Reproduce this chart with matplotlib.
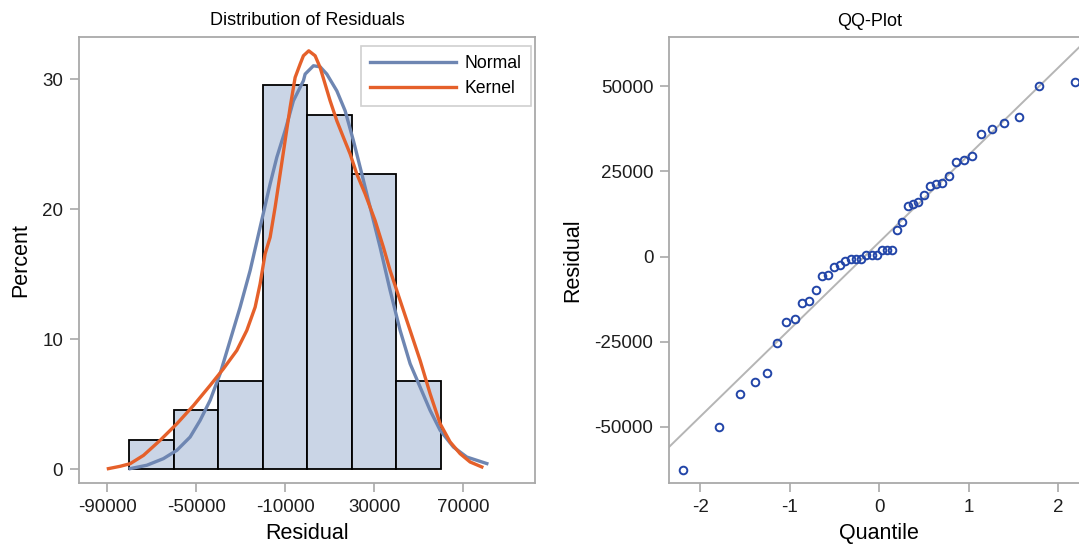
import matplotlib
matplotlib.use("Agg")
import matplotlib.pyplot as plt
import numpy as np

plt.rcParams['font.family'] = ['Liberation Sans', 'DejaVu Sans']
plt.rcParams['axes.unicode_minus'] = False

# residuals (sorted) and their normal quantiles
residuals = [-62500, -50000, -40400, -36700, -34200, -25400, -19200, -18200,
             -13500, -13000, -9900, -5700, -5300, -3100, -2500, -1300,
             -600, -600, -600, 500, 500, 500, 2000, 2000, 2000,
             7800, 10300, 14900, 15500, 16000, 18100, 20600, 21300, 21600,
             23700, 27800, 28400, 29400, 36100, 37600, 39100, 41100, 50000, 51400]
quantiles = [-2.193, -1.790, -1.560, -1.392, -1.256, -1.141, -1.038, -0.945,
             -0.860, -0.780, -0.706, -0.635, -0.567, -0.502, -0.439, -0.377,
             -0.317, -0.258, -0.200, -0.142, -0.085, -0.028, 0.028, 0.085, 0.142,
             0.200, 0.258, 0.317, 0.377, 0.439, 0.502, 0.567, 0.635, 0.706,
             0.780, 0.860, 0.945, 1.038, 1.141, 1.256, 1.392, 1.560, 1.790, 2.193]

bin_edges = [-80000, -60000, -40000, -20000, 0, 20000, 40000, 60000]

# fitted curves (percent)
normal_x = [-79700, -72200, -64740, -58700, -52740, -48240, -43750, -39250,
            -34750, -30260, -25760, -21270, -16770, -13760, -10030, -6290,
            -1800, -1030, 2700, 5710, 8720, 13220, 16950, 20680, 24460,
            28190, 32680, 37180, 41680, 46170, 50670, 55160, 59660, 65640,
            71670, 80660]
normal_y = [0.05, 0.31, 0.82, 1.46, 2.48, 3.76, 5.30, 7.35,
            9.91, 12.47, 15.28, 18.61, 21.94, 23.99, 26.04, 28.34,
            29.88, 30.39, 31.03, 30.95, 30.39, 29.10, 27.57, 25.27, 22.71,
            20.15, 17.07, 13.75, 10.68, 8.12, 6.32, 4.53, 3.00, 1.71,
            0.94, 0.44]

kernel_x = [-89470, -84200, -79700, -73700, -66200, -58700, -51250, -43750,
            -37760, -31740, -27250, -23500, -21270, -19020, -16770, -14520,
            -12270, -10030, -7780, -5530, -3280, -1800, 600, 3460, 5710,
            7960, 10200, 13220, 16190, 19200, 22200, 25940, 30440, 34170,
            37180, 41680, 46170, 50670, 55160, 59660, 64160, 68650, 73150, 78410]
kernel_y = [0.05, 0.23, 0.43, 1.07, 2.23, 3.50, 4.90, 6.45,
            7.73, 9.14, 10.68, 12.47, 14.26, 16.57, 17.84, 20.15,
            22.71, 25.27, 27.83, 30.13, 31.16, 31.80, 32.18, 31.80, 30.90,
            29.62, 28.34, 26.80, 25.52, 24.25, 22.71, 21.18, 19.12, 17.07,
            15.28, 12.98, 10.68, 8.37, 5.81, 3.51, 2.10, 1.20, 0.56, 0.18]

# QQ reference line (mean, std)
ref_intercept = 4240
ref_slope = 25600

left_xticks = [-90000, -50000, -10000, 30000, 70000]
left_yticks = [0, 10, 20, 30]
right_xticks = [-2, -1, 0, 1, 2]
right_yticks = [-50000, -25000, 0, 25000, 50000]

axis_gray = '#A9A9A9'


def style_axes(ax):
    for s in ax.spines.values():
        s.set_color(axis_gray)
        s.set_linewidth(1.3)
    ax.tick_params(direction='out', length=6.5, width=1.2, color=axis_gray,
                   labelcolor='#1E1E1E', labelsize=13.5, pad=5)


fig = plt.figure(figsize=(10.79, 5.49), dpi=100)

# left: histogram with normal and kernel fits
ax1 = fig.add_axes([0.0732, 0.1208, 0.4226, 0.8127])
n = len(residuals)
ax1.hist(residuals, bins=bin_edges, weights=[100.0 / n] * n,
         facecolor='#CAD5E6', edgecolor='black', linewidth=1.3, zorder=2)
ax1.plot(normal_x, normal_y, color='#6E86B2', lw=2.4, label='Normal', zorder=3,
         solid_joinstyle='round')
ax1.plot(kernel_x, kernel_y, color='#E5602A', lw=2.4, label='Kernel', zorder=4,
         solid_joinstyle='round')
ax1.set_xlim(-102700, 102300)
ax1.set_ylim(-1.03, 33.28)
ax1.set_xticks(left_xticks)
ax1.set_yticks(left_yticks)
ax1.set_xlabel('Residual', fontsize=15.5, labelpad=5)
ax1.set_ylabel('Percent', fontsize=15.5, labelpad=8)
ax1.set_title('Distribution of Residuals', fontsize=13, pad=8)
style_axes(ax1)
leg = ax1.legend(loc='upper right', bbox_to_anchor=(0.9906, 0.9787),
                 borderaxespad=0, fontsize=12.7, handlelength=4.9,
                 fancybox=False, framealpha=1, edgecolor='#D0D0D0',
                 handletextpad=0.5, labelspacing=0.45, borderpad=0.5)
leg.get_frame().set_linewidth(1.2)

# right: QQ plot
ax2 = fig.add_axes([0.6203, 0.1197, 0.3890, 0.8120])
ax2.axline((0, ref_intercept), slope=ref_slope, color='#B5B5B5', lw=1.4, zorder=2)
ax2.plot(quantiles, residuals, linestyle='none', marker='o', markersize=5.5,
         markerfacecolor='none', markeredgecolor='#2245A8', markeredgewidth=1.4,
         zorder=3)
ax2.set_xlim(-2.345, 2.345)
ax2.set_ylim(-66520, 64320)
ax2.set_xticks(right_xticks)
ax2.set_yticks(right_yticks)
ax2.set_xlabel('Quantile', fontsize=15.5, labelpad=5)
ax2.set_ylabel('Residual', fontsize=15.5, labelpad=8)
ax2.set_title('QQ-Plot', fontsize=13, pad=8, x=0.478)
style_axes(ax2)

fig.savefig('out.png', dpi=100)
